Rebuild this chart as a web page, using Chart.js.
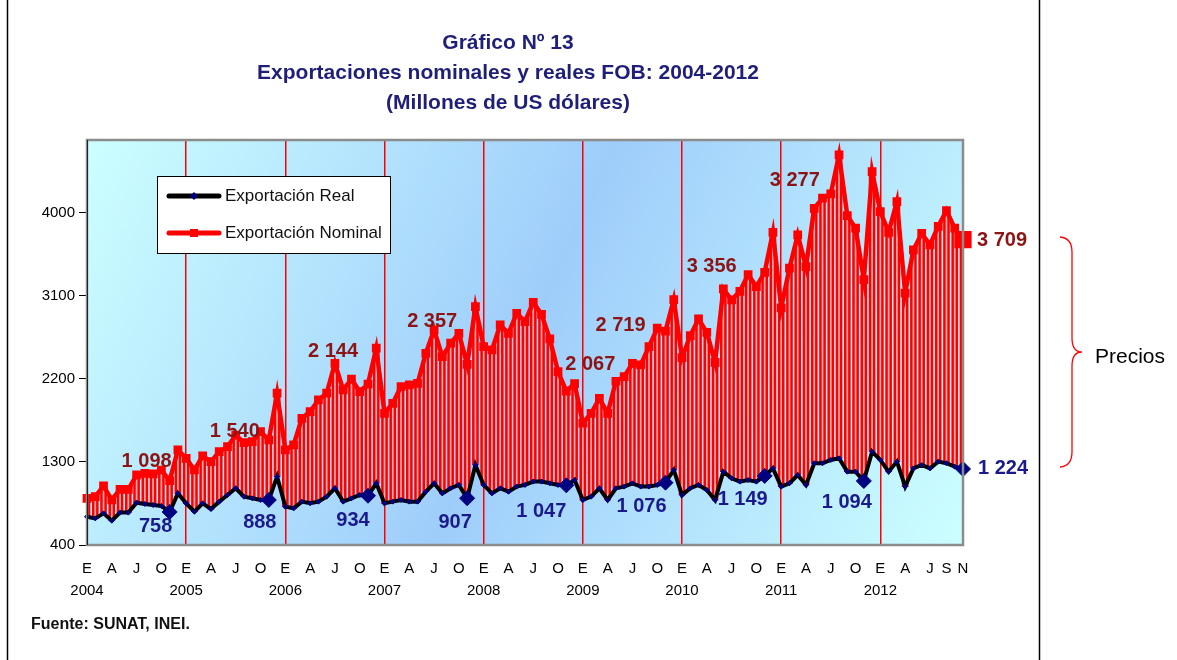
<!DOCTYPE html>
<html>
<head>
<meta charset="utf-8">
<script src="https://cdn.jsdelivr.net/npm/chart.js@4.4.1/dist/chart.umd.min.js"></script>
<style>
  body { margin: 0; background: #ffffff; }
  #wrap { position: relative; width: 1177px; height: 660px; }
</style>
</head>
<body>
<div id="wrap"><canvas id="grafico13" width="1177" height="660"></canvas></div>
<script>
// datos mensuales ene-2004 a nov-2012 (millones de US$)
const years = ['2004', '2005', '2006', '2007', '2008', '2009', '2010', '2011', '2012'];
const monthLetters = ['E', '', '', 'A', '', '', 'J', '', '', 'O', '', ''];
const monthLetters2012 = ['E', '', '', 'A', '', '', 'J', '', 'S', '', 'N'];

const nominal = [
    906, 924, 1040, 890, 1004, 1004, 1159, 1177, 1170, 1213, 1098, 1430,
    1340, 1213, 1365, 1304, 1412, 1466, 1590, 1510, 1520, 1630, 1540, 2045,
    1430, 1484, 1773, 1846, 1972, 2045, 2370, 2081, 2197, 2063, 2144, 2533,
    1828, 1936, 2117, 2135, 2153, 2478, 2731, 2442, 2587, 2695, 2357, 2984,
    2550, 2514, 2785, 2695, 2912, 2821, 3030, 2900, 2635, 2280, 2067, 2150,
    1720, 1828, 1990, 1828, 2175, 2225, 2370, 2352, 2550, 2750, 2719, 3060,
    2430, 2670, 2850, 2705, 2380, 3175, 3057, 3150, 3330, 3201, 3356, 3790,
    2970, 3400, 3761, 3418, 4050, 4159, 4205, 4629, 3970, 3834, 3277, 4448,
    4014, 3790, 4123, 3130, 3599, 3779, 3653, 3855, 4025, 3834, 3709
];

const real = [
    707, 689, 743, 664, 751, 751, 859, 845, 834, 823, 758, 960,
    852, 762, 852, 790, 870, 942, 1015, 924, 906, 888, 888, 1141,
    816, 798, 870, 852, 870, 924, 1015, 870, 906, 942, 934, 1069,
    852, 870, 888, 870, 870, 978, 1069, 960, 1015, 1051, 907, 1267,
    1051, 960, 1015, 978, 1033, 1051, 1087, 1087, 1069, 1051, 1047, 1105,
    888, 924, 1015, 888, 1015, 1033, 1069, 1033, 1033, 1051, 1076, 1213,
    942, 1015, 1051, 997, 888, 1195, 1123, 1087, 1105, 1087, 1149, 1231,
    1033, 1069, 1159, 1051, 1286, 1286, 1322, 1340, 1195, 1195, 1094, 1412,
    1322, 1195, 1304, 1033, 1231, 1267, 1231, 1304, 1286, 1249, 1224
];

const yTicks = [400, 1300, 2200, 3100, 4000];

// valores de noviembre rotulados
const novIdx = [10, 22, 34, 46, 58, 70, 82, 94, 106];
const notaNominal = ['1 098', '1 540', '2 144', '2 357', '2 067', '2 719', '3 356', '3 277', '3 709'];
const notaReal = ['758', '888', '934', '907', '1 047', '1 076', '1 149', '1 094', '1 224'];

// desplazamiento de los rotulos (px) respecto al punto
const offNominal = [[-23, -19], [-34, -8], [-35, -33], [-35, -43], [24, -27], [-45, -6], [-53, -6], [-69, -99], [39, 1]];
const offReal = [[-14, 15], [-9, 23], [-15, 25], [-12, 24], [-25, 26], [-24, 24], [-22, 24], [-17, 22], [40, 0]];

// categorias del eje x
const categories = [];
years.forEach((y) => {
    const letters = y === '2012' ? monthLetters2012 : monthLetters;
    letters.forEach((m, j) => {
        categories.push(j === 0 ? [m, y] : m);
    });
});

const FONT = "'Liberation Sans', Arial, sans-serif";
Chart.defaults.font.family = FONT;

const decorPlugin = {
    id: 'decor',
    beforeDraw(chart) {
        const { ctx, chartArea: a } = chart;
        ctx.save();
        const g = ctx.createLinearGradient(a.left, a.top, a.right, a.bottom);
        g.addColorStop(0, '#ccffff');
        g.addColorStop(0.5, '#9fcdfb');
        g.addColorStop(1, '#ccffff');
        ctx.fillStyle = g;
        ctx.fillRect(a.left, a.top, a.right - a.left, a.bottom - a.top);
        ctx.restore();
    },
    afterDraw(chart) {
        const { ctx, chartArea: a } = chart;
        const xs = chart.scales.x;
        const ys = chart.scales.y;
        ctx.save();

        // borde del area de grafico
        ctx.strokeStyle = '#8c8c8c';
        ctx.lineWidth = 2.5;
        ctx.strokeRect(a.left, a.top, a.right - a.left, a.bottom - a.top);
        ctx.strokeStyle = '#222';
        ctx.lineWidth = 1;
        ctx.beginPath();
        ctx.moveTo(a.left + 0.5, a.top);
        ctx.lineTo(a.left + 0.5, a.bottom);
        ctx.stroke();

        // titulos
        ctx.fillStyle = '#1f1f7a';
        ctx.textAlign = 'center';
        ctx.textBaseline = 'middle';
        ctx.font = 'bold 21px ' + FONT;
        ctx.fillText('Gráfico Nº 13', 508, 43);
        ctx.fillText('Exportaciones nominales y reales FOB: 2004-2012', 508, 73);
        ctx.fillText('(Millones de US dólares)', 508, 103);

        // rotulos de valores
        ctx.font = 'bold 20px ' + FONT;
        novIdx.forEach((idx, k) => {
            const px = xs.getPixelForValue(idx);
            ctx.fillStyle = '#8c1414';
            ctx.fillText(notaNominal[k], px + offNominal[k][0], ys.getPixelForValue(nominal[idx]) + offNominal[k][1]);
            ctx.fillStyle = '#1a1a8c';
            ctx.fillText(notaReal[k], px + offReal[k][0], ys.getPixelForValue(real[idx]) + offReal[k][1]);
        });

        // leyenda
        ctx.fillStyle = '#ffffff';
        ctx.fillRect(157.5, 176.5, 233, 77);
        ctx.strokeStyle = '#000';
        ctx.lineWidth = 1;
        ctx.strokeRect(157.5, 176.5, 233, 77);
        ctx.lineCap = 'round';
        ctx.lineWidth = 5;
        ctx.strokeStyle = '#000';
        ctx.beginPath(); ctx.moveTo(169, 196); ctx.lineTo(219, 196); ctx.stroke();
        ctx.strokeStyle = '#ff0000';
        ctx.beginPath(); ctx.moveTo(169, 233); ctx.lineTo(219, 233); ctx.stroke();
        ctx.lineCap = 'butt';
        ctx.fillStyle = '#000080';
        ctx.beginPath();
        ctx.moveTo(194, 192); ctx.lineTo(198, 196); ctx.lineTo(194, 200); ctx.lineTo(190, 196);
        ctx.closePath(); ctx.fill();
        ctx.fillStyle = '#ff0000';
        ctx.fillRect(190, 229, 8, 8);
        ctx.fillStyle = '#111';
        ctx.textAlign = 'left';
        ctx.font = '17px ' + FONT;
        ctx.fillText('Exportación Real', 225, 196);
        ctx.fillText('Exportación Nominal', 225, 233);

        // fuente
        ctx.font = 'bold 16px ' + FONT;
        ctx.fillText('Fuente: SUNAT, INEI.', 31, 625);

        // llave "Precios"
        ctx.strokeStyle = '#ff0000';
        ctx.lineWidth = 1.3;
        ctx.beginPath();
        ctx.moveTo(1060, 237);
        ctx.quadraticCurveTo(1072, 238, 1072, 252);
        ctx.lineTo(1072, 338);
        ctx.quadraticCurveTo(1072, 352, 1082, 352);
        ctx.quadraticCurveTo(1072, 352, 1072, 366);
        ctx.lineTo(1072, 452);
        ctx.quadraticCurveTo(1072, 466, 1060, 467);
        ctx.stroke();
        ctx.fillStyle = '#000';
        ctx.font = '21px ' + FONT;
        ctx.fillText('Precios', 1095, 357);

        // marco exterior
        ctx.strokeStyle = '#000';
        ctx.lineWidth = 1.5;
        ctx.beginPath();
        ctx.moveTo(7.5, 0); ctx.lineTo(7.5, 660);
        ctx.moveTo(1039.5, 0); ctx.lineTo(1039.5, 660);
        ctx.stroke();
        ctx.restore();
    }
};

const ranges = real.map((r, i) => [r, nominal[i]]);

const ctx = document.getElementById('grafico13').getContext('2d');
new Chart(ctx, {
    data: {
        labels: categories,
        datasets: [
            {
                type: 'line',
                label: 'Exportación Real',
                data: real,
                borderColor: '#000000',
                borderWidth: 4,
                tension: 0,
                pointStyle: 'rectRot',
                pointRadius: (c) => novIdx.includes(c.dataIndex) ? 7.5 : 2.5,
                pointBackgroundColor: '#000080',
                pointBorderColor: '#000080',
                pointBorderWidth: 1,
                order: 1
            },
            {
                type: 'line',
                label: 'Exportación Nominal',
                data: nominal,
                borderColor: '#ff0000',
                borderWidth: 4.5,
                tension: 0,
                pointStyle: 'rect',
                pointRadius: (c) => c.dataIndex === nominal.length - 1 ? 9 : 3,
                pointBackgroundColor: '#ff0000',
                pointBorderColor: '#ff0000',
                order: 2
            },
            {
                type: 'bar',
                data: ranges,
                backgroundColor: '#ffb0b0',
                barThickness: 1,
                grouped: false,
                order: 3
            },
            {
                type: 'bar',
                data: ranges,
                backgroundColor: '#ff0000',
                barThickness: 6,
                grouped: false,
                order: 4
            }
        ]
    },
    options: {
        responsive: false,
        animation: false,
        layout: { padding: { left: 0, top: 140, right: 214, bottom: 0 } },
        plugins: {
            legend: { display: false },
            tooltip: { enabled: false },
            title: { display: false }
        },
        scales: {
            x: {
                type: 'category',
                offset: false,
                border: { display: false },
                grid: {
                    offset: false,
                    drawTicks: false,
                    lineWidth: 1.5,
                    color: (c) => (c.index > 0 && c.index % 12 === 0) ? '#ff0000' : 'rgba(0,0,0,0)'
                },
                ticks: {
                    autoSkip: false,
                    maxRotation: 0,
                    minRotation: 0,
                    padding: 13,
                    color: '#000',
                    font: { size: 15, lineHeight: 1.45 }
                },
                afterFit: (s) => { s.height = 115; }
            },
            y: {
                min: 400,
                max: 4790,
                afterBuildTicks: (s) => { s.ticks = yTicks.map(v => ({ value: v })); },
                border: { display: true, color: '#000', width: 1 },
                grid: { drawOnChartArea: false, drawTicks: true, tickLength: 8, color: '#000' },
                ticks: {
                    padding: 4,
                    color: '#000',
                    font: { size: 15 },
                    callback: (v) => String(v)
                },
                afterFit: (s) => { s.width = 87; }
            }
        }
    },
    plugins: [decorPlugin]
});
</script>
</body>
</html>
